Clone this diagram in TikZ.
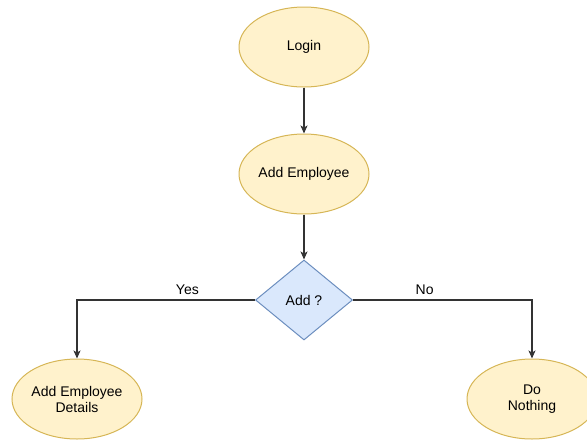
\documentclass[tikz,border=0pt]{standalone}
\usepackage{fontspec}
\setmainfont{Liberation Sans}
\usetikzlibrary{shapes.geometric,arrows.meta}
\definecolor{termfill}{HTML}{FFF2CC}
\definecolor{termline}{HTML}{D6B656}
\definecolor{decfill}{HTML}{DAE8FC}
\definecolor{decline}{HTML}{6C8EBF}
\definecolor{wire}{HTML}{333333}
\tikzset{
  terminal/.style={ellipse, draw=termline, fill=termfill, line width=1pt,
    minimum width=130pt, minimum height=80pt, inner sep=0pt, align=center,
    font=\fontsize{14}{16}\selectfont},
  decision/.style={diamond, draw=decline, fill=decfill, line width=1pt,
    minimum width=97pt, minimum height=80pt, inner sep=0pt, aspect=1.2,
    font=\fontsize{14}{16}\selectfont},
  flow/.style={draw=wire, line width=1.3pt,
    -{Stealth[length=8pt,width=7pt,inset=2pt]}},
  edgelabel/.style={font=\fontsize{14}{16}\selectfont, inner sep=0pt}
}
\begin{document}
\begin{tikzpicture}[x=1pt,y=-1pt]
  \useasboundingbox (0,0) rectangle (587,440);
  \node[terminal] (login) at (304,47) {Login};
  \node[terminal] (addemp) at (304,174) {Add Employee};
  \node[decision] (add) at (304,300) {Add ?};
  \node[terminal] (details) at (77,399) {Add Employee\\Details};
  \node[terminal] (nothing) at (532,399) {Do\\Nothing};

  \draw[flow] (login) -- (addemp);
  \draw[flow] (addemp) -- (add);
  \draw[flow] (add.west) -| node[edgelabel, pos=0.19, above=5pt] {Yes} (details.north);
  \draw[flow] (add.east) -| node[edgelabel, pos=0.2, above=5pt] {No} (nothing.north);
\end{tikzpicture}
\end{document}
